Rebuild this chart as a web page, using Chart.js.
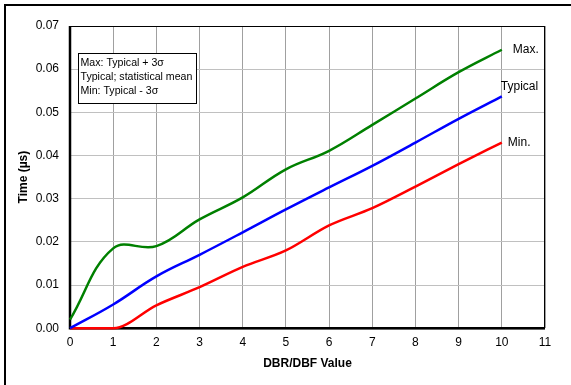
<!DOCTYPE html>
<html>
<head>
<meta charset="utf-8">
<script src="https://cdn.jsdelivr.net/npm/chart.js@4"></script>
<style>
    html, body {
        margin: 0;
        padding: 0;
        background: #ffffff;
    }
    #wrap {
        width: 571px;
        height: 385px;
        position: relative;
    }
</style>
</head>
<body>
<div id="wrap">
    <canvas id="timeChart" width="571" height="385"></canvas>
</div>
<script>

// DBR/DBF values on the x axis
const dbrValues = [0, 1, 2, 3, 4, 5, 6, 7, 8, 9, 10];

// time in microseconds
const maxTimes = [0.0020, 0.0185, 0.0190, 0.0252, 0.0303, 0.0368, 0.0411, 0.0471, 0.0532, 0.0593, 0.0645];
const typicalTimes = [0.0000, 0.0055, 0.0120, 0.0170, 0.0222, 0.0275, 0.0326, 0.0376, 0.0430, 0.0485, 0.0537];
const minTimes = [0.0000, 0.0000, 0.0053, 0.0095, 0.0142, 0.0180, 0.0238, 0.0278, 0.0328, 0.0380, 0.0430];

const seriesNames = ["Max.", "Typical", "Min."];
const seriesColors = ["#008000", "#0000ff", "#ff0000"];

const noteLines = [
    "Max: Typical + 3\u03c3",
    "Typical; statistical mean",
    "Min: Typical - 3\u03c3",
];

const FONT = "'Liberation Sans', Arial, sans-serif";

function toPoints(values) {
    return dbrValues.map(function(x, i) {
        return {x: x, y: values[i]};
    });
}

// outer frame, plot frame, end labels and the note box
const decorations = {
    id: "decorations",
    beforeDatasetsDraw(chart) {
        const ctx = chart.ctx;
        const area = chart.chartArea;

        ctx.save();

        // outer frame (only top and left are inside the picture)
        ctx.strokeStyle = "#000";
        ctx.lineWidth = 2;
        ctx.beginPath();
        ctx.moveTo(5, 400);
        ctx.lineTo(5, 5);
        ctx.lineTo(600, 5);
        ctx.stroke();

        // plot frame
        ctx.lineWidth = 1;
        ctx.strokeRect(area.left + 0.5, area.top + 0.5, area.right - area.left - 1, area.bottom - area.top);
        ctx.lineWidth = 2.5;
        ctx.beginPath();
        ctx.moveTo(area.left, area.top);
        ctx.lineTo(area.left, area.bottom);
        ctx.lineTo(area.right, area.bottom);
        ctx.stroke();

        ctx.restore();
    },
    afterDraw(chart) {
        const ctx = chart.ctx;
        const area = chart.chartArea;

        ctx.save();

        // end labels
        ctx.fillStyle = "#000";
        ctx.font = "12px " + FONT;
        ctx.textBaseline = "middle";
        ctx.textAlign = "left";
        const offsets = [[11, 0], [-1, -10], [6, 0]];
        chart.data.datasets.forEach(function(ds, i) {
            const meta = chart.getDatasetMeta(i);
            const last = meta.data[meta.data.length - 1];
            ctx.fillText(seriesNames[i], last.x + offsets[i][0], last.y + offsets[i][1]);
        });

        // note box
        const boxX = area.left + 8.5;
        const boxY = area.top + 27.5;
        ctx.fillStyle = "#fff";
        ctx.fillRect(boxX, boxY, 118, 50);
        ctx.strokeStyle = "#000";
        ctx.lineWidth = 1;
        ctx.strokeRect(boxX, boxY, 118, 50);
        ctx.fillStyle = "#000";
        ctx.font = "10.6px " + FONT;
        noteLines.forEach(function(line, i) {
            ctx.fillText(line, boxX + 2, boxY + 10 + i * 14);
        });

        ctx.restore();
    },
};

const canvas = document.getElementById("timeChart");

new Chart(canvas, {
    type: "line",
    data: {
        datasets: [
            {
                label: seriesNames[0],
                data: toPoints(maxTimes),
                borderColor: seriesColors[0],
                borderWidth: 2.5,
                pointRadius: 0,
                tension: 0.4,
                fill: false,
                clip: 4,
            },
            {
                label: seriesNames[1],
                data: toPoints(typicalTimes),
                borderColor: seriesColors[1],
                borderWidth: 2.5,
                pointRadius: 0,
                tension: 0.4,
                fill: false,
                clip: 4,
            },
            {
                label: seriesNames[2],
                data: toPoints(minTimes),
                borderColor: seriesColors[2],
                borderWidth: 2.5,
                pointRadius: 0,
                cubicInterpolationMode: "monotone",
                fill: false,
                clip: 4,
            },
        ],
    },
    options: {
        responsive: false,
        animation: false,
        layout: {
            padding: {left: 16, right: 26, top: 26, bottom: 14},
        },
        plugins: {
            legend: {display: false},
            tooltip: {enabled: false},
        },
        scales: {
            x: {
                type: "linear",
                min: 0,
                max: 11,
                ticks: {
                    stepSize: 1,
                    color: "#000",
                    font: {family: FONT, size: 12},
                    padding: 7,
                    maxRotation: 0,
                },
                grid: {
                    color: "#a0a0a0",
                    lineWidth: 1,
                    drawTicks: false,
                },
                border: {display: false},
                title: {
                    display: true,
                    text: "DBR/DBF Value",
                    color: "#000",
                    font: {family: FONT, size: 12, weight: "bold"},
                    padding: {top: 0, bottom: 0},
                },
            },
            y: {
                min: 0,
                max: 0.07,
                ticks: {
                    stepSize: 0.01,
                    color: "#000",
                    font: {family: FONT, size: 12},
                    padding: 11,
                    callback: function(value) {
                        return value.toFixed(2);
                    },
                },
                grid: {
                    color: "#c0c0c0",
                    lineWidth: 1,
                    drawTicks: false,
                },
                border: {display: false},
                title: {
                    display: true,
                    text: "Time (\u00b5s)",
                    color: "#000",
                    font: {family: FONT, size: 12, weight: "bold"},
                    padding: {top: 0, bottom: 0},
                },
                afterFit: function(scale) {
                    scale.width = 54;
                },
            },
        },
    },
    plugins: [decorations],
});

</script>
</body>
</html>
